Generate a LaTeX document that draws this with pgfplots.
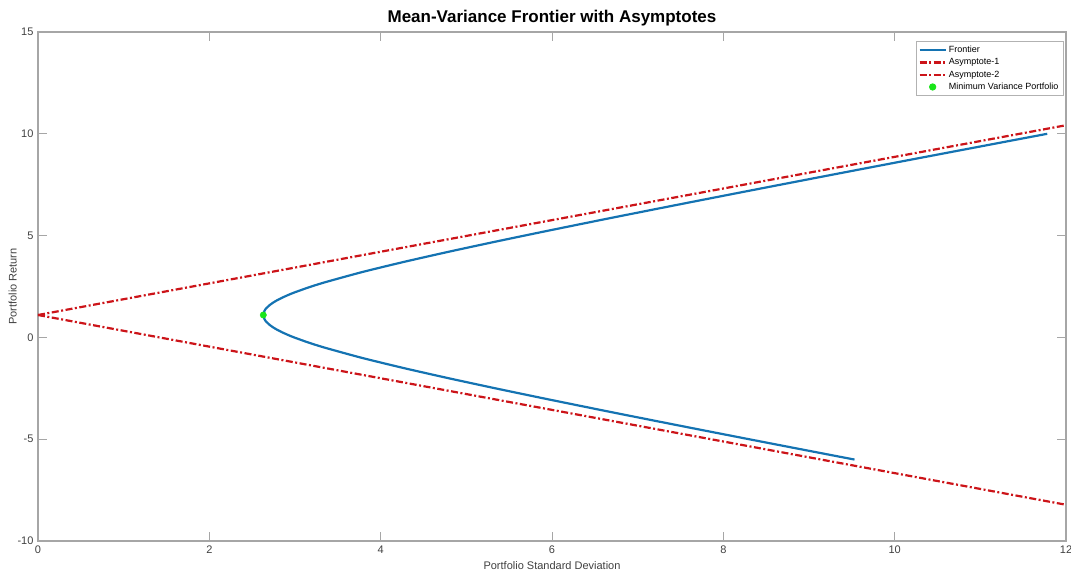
\documentclass[border=0pt]{standalone}
\usepackage{pgfplots}
\pgfplotsset{compat=1.18}
\usepackage{fontspec}
\setmainfont{Liberation Sans}
\usetikzlibrary{calc}

\definecolor{frontblue}{rgb}{0.08,0.45,0.70}
\definecolor{asyred}{rgb}{0.80,0.08,0.10}
\definecolor{mvgreen}{rgb}{0.1,0.9,0.1}
\definecolor{axgray}{gray}{0.65}
\definecolor{lblgray}{gray}{0.25}

% frontier: sigma(mu) for mu in [-6, 10]
\pgfplotstableread{
sd      ret
9.531  -6.0
8.913  -5.5
8.299  -5.0
7.690  -4.5
7.087  -4.0
6.492  -3.5
5.908  -3.0
5.338  -2.5
4.787  -2.0
4.263  -1.5
3.776  -1.0
3.344  -0.5
3.155  -0.25
2.989   0.0
2.930   0.1
2.850   0.25
2.781   0.4
2.742   0.5
2.708   0.6
2.669   0.75
2.658   0.8
2.643   0.9
2.633   1.0
2.630   1.1
2.633   1.2
2.643   1.3
2.658   1.4
2.669   1.45
2.708   1.6
2.742   1.7
2.781   1.8
2.850   1.95
2.930   2.1
2.989   2.2
3.155   2.45
3.344   2.7
3.776   3.2
4.263   3.7
4.787   4.2
5.338   4.7
5.908   5.2
6.492   5.7
7.087   6.2
7.690   6.7
8.299   7.2
8.913   7.7
9.531   8.2
10.153  8.7
10.778  9.2
11.404  9.7
11.781 10.0
}\frontier

\begin{document}
\begin{tikzpicture}
\begin{axis}[
  name=ax,
  scale only axis,
  width=1028pt, height=509pt,
  xmin=0, xmax=12, ymin=-10, ymax=15,
  xtick={0,2,...,12}, ytick={-10,-5,...,15},
  tick align=inside,
  major tick length=9pt,
  axis line style={axgray, line width=1.2pt},
  every tick/.style={axgray, line width=1pt},
  tick label style={font=\fontsize{11}{13}\selectfont, text=lblgray},
  /pgf/number format/assume math mode=true,
  xticklabel style={yshift=-1pt},
  yticklabel style={xshift=-1pt},
  title={\textbf{Mean-Variance Frontier with Asymptotes}},
  title style={font=\fontsize{17}{20}\selectfont, yshift=-4pt},
  xlabel={Portfolio Standard Deviation},
  ylabel={Portfolio Return},
  label style={font=\fontsize{11}{13}\selectfont, text=lblgray},
  xlabel style={yshift=-1pt},
  ylabel style={yshift=-6pt},
  legend style={at={(rel axis cs:0.9975,0.982)}, anchor=north east,
    font=\fontsize{9}{10.5}\selectfont, draw=gray!60, line width=0.8pt,
    inner sep=2.5pt, row sep=0pt,
    nodes={inner sep=2.2pt}},
  legend cell align=left,
  legend image code/.code={\draw[#1] (0pt,0pt) -- (26pt,0pt);},
  clip=true,
]
\addplot[frontblue, line width=2.2pt, smooth, tension=0.4] table[x=sd, y=ret] {\frontier};
\addlegendentry{Frontier}
\addplot[asyred, line width=2.2pt, dash pattern=on 7pt off 2.5pt on 2pt off 2.5pt] coordinates {(0,1.1) (12,10.42)};
\addlegendentry{Asymptote-1}
\addplot[asyred, line width=2.2pt, dash pattern=on 7pt off 2.5pt on 2pt off 2.5pt] coordinates {(0,1.1) (12,-8.22)};
\addlegendentry{Asymptote-2}
\addplot[only marks, mark=*, mark size=3.2pt, mvgreen, draw=mvgreen,
  legend image code/.code={\fill[mvgreen] (13pt,0pt) circle (3.2pt);}]
  coordinates {(2.630,1.1)};
\addlegendentry{Minimum Variance Portfolio}
\end{axis}
\pgfresetboundingbox
\path ($(ax.south west)+(-38pt,-31pt)$) rectangle ($(ax.north east)+(5pt,32pt)$);
\end{tikzpicture}
\end{document}
